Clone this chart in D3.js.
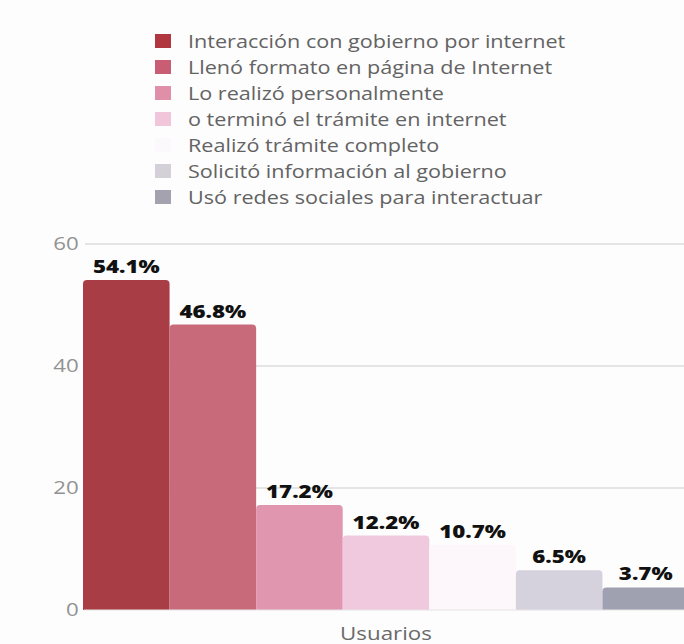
<!DOCTYPE html>
<html>
<head>
<meta charset="utf-8">
<script src="https://cdn.jsdelivr.net/npm/d3@7"></script>
<style>
  html, body { margin: 0; padding: 0; background: #fdfdfd; }
  svg { display: block; }
</style>
</head>
<body>
<svg id="chart" width="684" height="644"></svg>
<script>
// Single category, seven series
const categories = ["Usuarios"];
const series = [
  "Interacción con gobierno por internet",
  "Llenó formato en página de Internet",
  "Lo realizó personalmente",
  "o terminó el trámite en internet",
  "Realizó trámite completo",
  "Solicitó información al gobierno",
  "Usó redes sociales para interactuar"
];
const values = [54.1, 46.8, 17.2, 12.2, 10.7, 6.5, 3.7];
const colors = ["#a93d46", "#c86a7a", "#e096ae", "#f1c9df", "#fdf7fb", "#d5d1dd", "#9fa1b1"];
const legendColors = ["#b0363f", "#c95d73", "#e08fa9", "#f2c6da", "#fcf9fd", "#d3d0d8", "#a3a2ae"];
const yTicks = [0, 20, 40, 60];

const svg = d3.select("#chart");
const font = "'Open Sans', sans-serif";
const stretch = 1.24;       // wide lettering
const legendStretch = 1.2;

// Scales
const y = d3.scaleLinear().domain([0, 60]).range([610, 244]);
const x0 = d3.scaleBand().domain(categories).range([83, 689]).padding(0);
const x1 = d3.scaleBand().domain(series).range([0, x0.bandwidth()]).padding(0);

// Gridlines
svg.append("g").selectAll("line").data(yTicks.filter(d => d > 0)).join("line")
  .attr("x1", 85).attr("x2", 684)
  .attr("y1", d => y(d)).attr("y2", d => y(d))
  .attr("stroke", "#dddddd").attr("stroke-width", 1.5);

// Y-axis labels
const yAxis = d3.axisLeft(y).tickValues(yTicks).tickSize(0).tickPadding(9);
const yG = svg.append("g").attr("transform", "translate(90,0)").call(yAxis);
yG.select(".domain").remove();
yG.selectAll("text")
  .attr("font-family", font).attr("font-size", 18).attr("fill", "#939393")
  .attr("font-weight", 400)
  .attr("transform", `scale(${stretch},1)`);

// Bars, with rounded top corners
const rows = series.map((s, i) => ({ s, v: values[i], c: colors[i] }));
const g = svg.append("g").attr("transform", `translate(${x0(categories[0])},0)`);
const r = 4;
g.selectAll("path.bar").data(rows).join("path").attr("class", "bar")
  .attr("fill", d => d.c)
  .attr("d", d => {
    const x = x1(d.s), w = x1.bandwidth(), top = y(d.v), bot = y(0);
    return `M${x},${bot}V${top + r}Q${x},${top} ${x + r},${top}H${x + w - r}Q${x + w},${top} ${x + w},${top + r}V${bot}Z`;
  });

// Value labels
g.selectAll("text.val").data(rows).join("text").attr("class", "val")
  .attr("transform", d => `translate(${x1(d.s) + x1.bandwidth() / 2},${y(d.v) - 7}) scale(${stretch},1)`)
  .attr("text-anchor", "middle")
  .attr("font-family", font).attr("font-weight", 800).attr("font-size", 18)
  .attr("fill", "#111")
  .text(d => d.v.toFixed(1) + "%");

// Baseline
svg.append("line").attr("x1", 84).attr("x2", 684).attr("y1", y(0)).attr("y2", y(0))
  .attr("stroke", "#e4e4e4").attr("stroke-width", 1);

// Category label
svg.append("text")
  .attr("transform", `translate(${x0(categories[0]) + x0.bandwidth() / 2},640) scale(${stretch},1)`)
  .attr("text-anchor", "middle")
  .attr("font-family", font).attr("font-size", 18).attr("fill", "#6a6a6a").attr("font-weight", 400)
  .text(categories[0]);

// Legend
const lg = svg.append("g").attr("transform", "translate(155,34)");
const item = lg.selectAll("g").data(series).join("g")
  .attr("transform", (d, i) => `translate(0,${i * 26})`);
item.append("rect").attr("width", 16).attr("height", 14).attr("y", 0)
  .attr("fill", (d, i) => legendColors[i]);
item.append("text")
  .attr("transform", `translate(33,14) scale(${legendStretch},1)`)
  .attr("font-family", font).attr("font-size", 18).attr("fill", "#636363").attr("font-weight", 400)
  .text(d => d);
</script>
</body>
</html>
